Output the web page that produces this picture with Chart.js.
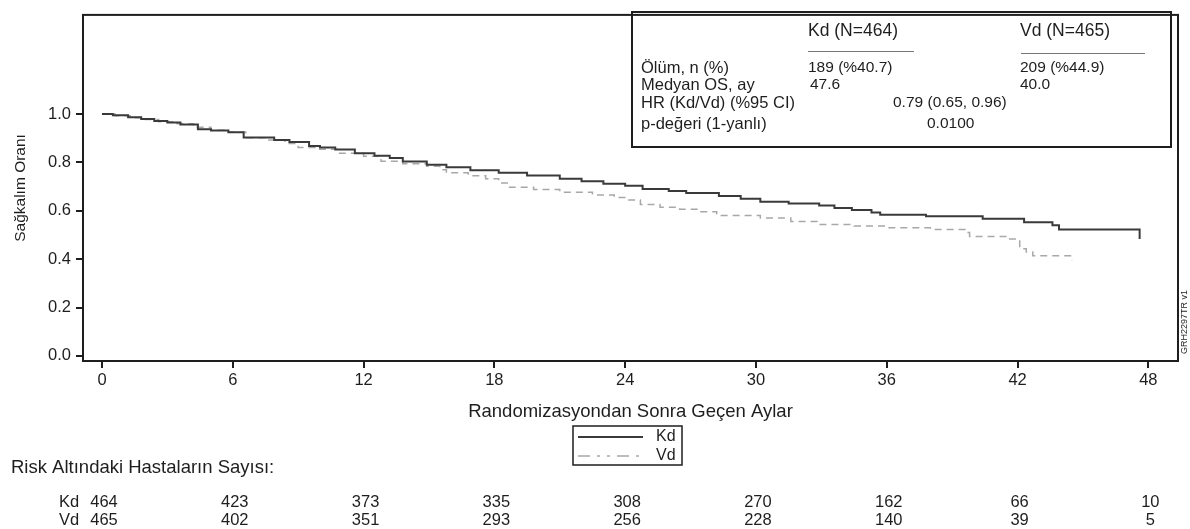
<!DOCTYPE html>
<html>
<head>
<meta charset="utf-8">
<script src="https://cdn.jsdelivr.net/npm/chart.js@4"></script>
<style>
  html, body { margin: 0; padding: 0; background: #fff; }
  #wrap { width: 1190px; height: 529px; position: relative; }
</style>
</head>
<body>
<div id="wrap"><canvas id="km"></canvas></div>
<script>
// Kaplan-Meier okumalari (ay, sagkalim orani)
var kdMonths = [0, 0.5, 1.2, 1.8, 2.4, 3.0, 3.6, 4.4, 5.0, 5.8, 6.5, 7.9, 8.6, 9.5, 10.0, 10.7, 11.6, 12.5, 13.2, 13.8, 14.9, 15.8, 16.9, 18.2, 19.5, 21.0, 22.0, 23.0, 24.0, 24.8, 26.0, 26.8, 28.3, 29.3, 30.2, 31.5, 32.9, 33.6, 34.4, 35.3, 35.7, 37.8, 40.4, 42.3, 43.6, 43.9, 47.6];
var kdSurv   = [1.0, 0.995, 0.987, 0.980, 0.971, 0.965, 0.957, 0.937, 0.932, 0.925, 0.903, 0.893, 0.885, 0.868, 0.862, 0.853, 0.838, 0.828, 0.818, 0.804, 0.790, 0.780, 0.768, 0.757, 0.746, 0.733, 0.722, 0.712, 0.704, 0.690, 0.682, 0.674, 0.661, 0.650, 0.637, 0.630, 0.622, 0.612, 0.603, 0.593, 0.584, 0.577, 0.567, 0.553, 0.540, 0.523, 0.483];
var vdMonths = [0, 0.6, 1.3, 2.0, 2.6, 3.4, 4.2, 5.0, 5.8, 6.6, 7.6, 8.4, 9.0, 9.8, 10.9, 12.0, 12.8, 13.8, 14.9, 15.5, 15.8, 16.8, 17.6, 18.2, 18.7, 19.8, 21.0, 22.5, 23.5, 24.1, 24.7, 25.6, 26.5, 27.4, 28.2, 30.2, 31.6, 32.8, 34.5, 36.0, 38.0, 39.7, 39.8, 41.5, 42.1, 42.4, 42.7, 44.5];
var vdSurv   = [1.0, 0.993, 0.985, 0.977, 0.968, 0.960, 0.945, 0.933, 0.925, 0.902, 0.893, 0.878, 0.862, 0.855, 0.838, 0.826, 0.805, 0.795, 0.784, 0.770, 0.757, 0.745, 0.733, 0.715, 0.697, 0.688, 0.677, 0.665, 0.655, 0.645, 0.626, 0.615, 0.606, 0.596, 0.581, 0.570, 0.556, 0.543, 0.537, 0.530, 0.523, 0.510, 0.494, 0.483, 0.443, 0.430, 0.414, 0.396];

var xTicks = [0, 6, 12, 18, 24, 30, 36, 42, 48];
var yTicks = [0, 0.2, 0.4, 0.6, 0.8, 1.0];

// risk altindaki hasta sayilari
var riskMonths = [0, 6, 12, 18, 24, 30, 36, 42, 48];
var riskKd = [464, 423, 373, 335, 308, 270, 162, 66, 10];
var riskVd = [465, 402, 351, 293, 256, 228, 140, 39, 5];

var FONT = '"Liberation Sans", Arial, Helvetica, sans-serif';
var INK = '#1e1e1e';
var KD_COLOR = '#3a3a3a';
var VD_COLOR = '#a8a8a8';

function toPoints(xs, ys) {
  var out = [];
  for (var i = 0; i < xs.length; i++) out.push({ x: xs[i], y: ys[i] });
  return out;
}

// cerceve, bilgi kutusu, alt lejant, risk tablosu
var extras = {
  id: 'extras',
  afterDraw: function (chart) {
    var ctx = chart.ctx;
    var a = chart.chartArea;
    var xs = chart.scales.x;
    ctx.save();

    // plot frame
    ctx.strokeStyle = INK;
    ctx.lineWidth = 2;
    ctx.strokeRect(a.left, a.top, a.right - a.left, a.bottom - a.top);

    // info box
    ctx.lineWidth = 2;
    ctx.strokeRect(632, 12, 539, 135);
    ctx.fillStyle = INK;
    ctx.textBaseline = 'middle';
    ctx.textAlign = 'left';
    ctx.font = '17.5px ' + FONT;
    ctx.fillText('Kd (N=464)', 808, 31);
    ctx.fillText('Vd (N=465)', 1020, 31);
    ctx.strokeStyle = '#777';
    ctx.lineWidth = 1;
    ctx.beginPath();
    ctx.moveTo(808, 51.5); ctx.lineTo(914, 51.5);
    ctx.moveTo(1021, 53.5); ctx.lineTo(1145, 53.5);
    ctx.stroke();
    ctx.font = '16.5px ' + FONT;
    ctx.fillText('Ölüm, n (%)', 641, 68);
    ctx.fillText('Medyan OS, ay', 641, 85);
    ctx.fillText('HR (Kd/Vd) (%95 CI)', 641, 103);
    ctx.fillText('p-değeri (1-yanlı)', 641, 124);
    ctx.font = '15.5px ' + FONT;
    ctx.fillText('189 (%40.7)', 808, 68);
    ctx.fillText('209 (%44.9)', 1020, 68);
    ctx.fillText('47.6', 810, 85);
    ctx.fillText('40.0', 1020, 85);
    ctx.fillText('0.79 (0.65, 0.96)', 893, 103);
    ctx.fillText('0.0100', 927, 124);

    // side code
    ctx.save();
    ctx.translate(1185, 322);
    ctx.rotate(-Math.PI / 2);
    ctx.font = '9px ' + FONT;
    ctx.textAlign = 'center';
    ctx.fillText('GRH2297TR v1', 0, 0);
    ctx.restore();

    // bottom legend
    ctx.strokeStyle = INK;
    ctx.lineWidth = 1.5;
    ctx.strokeRect(573, 426, 109, 39);
    ctx.strokeStyle = KD_COLOR;
    ctx.lineWidth = 2;
    ctx.beginPath(); ctx.moveTo(578, 437); ctx.lineTo(643, 437); ctx.stroke();
    ctx.strokeStyle = VD_COLOR;
    ctx.lineWidth = 1.5;
    ctx.setLineDash([12, 7, 3, 7, 3, 7]);
    ctx.beginPath(); ctx.moveTo(578, 456); ctx.lineTo(643, 456); ctx.stroke();
    ctx.setLineDash([]);
    ctx.fillStyle = INK;
    ctx.font = '16px ' + FONT;
    ctx.fillText('Kd', 656, 437);
    ctx.fillText('Vd', 656, 456);

    // risk table
    ctx.font = '18.5px ' + FONT;
    ctx.fillText('Risk Altındaki Hastaların Sayısı:', 11, 468);
    ctx.font = '16.5px ' + FONT;
    ctx.fillText('Kd', 59, 502);
    ctx.fillText('Vd', 59, 520);
    ctx.textAlign = 'center';
    for (var i = 0; i < riskMonths.length; i++) {
      var px = xs.getPixelForValue(riskMonths[i]);
      ctx.fillText(String(riskKd[i]), px + 2, 502);
      ctx.fillText(String(riskVd[i]), px + 2, 520);
    }
    ctx.restore();
  }
};

var chart = new Chart(document.getElementById('km').getContext('2d'), {
  type: 'line',
  data: {
    datasets: [{
      label: 'Kd',
      data: toPoints(kdMonths, kdSurv),
      borderColor: KD_COLOR,
      borderWidth: 2,
      stepped: 'before',
      pointRadius: 0,
      fill: false
    }, {
      label: 'Vd',
      data: toPoints(vdMonths, vdSurv),
      borderColor: VD_COLOR,
      borderWidth: 1.5,
      borderDash: [7, 5],
      stepped: 'before',
      pointRadius: 0,
      fill: false
    }]
  },
  options: {
    responsive: true,
    maintainAspectRatio: false,
    animation: false,
    layout: { padding: { left: 0, top: 3, right: 12, bottom: 102 } },
    plugins: { legend: { display: false }, tooltip: { enabled: false } },
    scales: {
      x: {
        type: 'linear',
        min: -0.87,
        max: 49.36,
        afterBuildTicks: function (s) { s.ticks = xTicks.map(function (v) { return { value: v }; }); },
        afterFit: function (s) { s.height = 66; },
        border: { display: false },
        grid: { drawOnChartArea: false, tickLength: 7, color: INK, lineWidth: 2 },
        ticks: { color: INK, font: { family: FONT, size: 16.5 }, padding: 3, maxRotation: 0 },
        title: { display: true, text: 'Randomizasyondan Sonra Geçen Aylar', color: INK, font: { family: FONT, size: 18.5 }, padding: { top: 12 } }
      },
      y: {
        type: 'linear',
        min: -0.021,
        max: 1.41,
        afterBuildTicks: function (s) { s.ticks = yTicks.map(function (v) { return { value: v }; }); },
        afterFit: function (s) { s.width = 83; },
        border: { display: false },
        grid: { drawOnChartArea: false, tickLength: 7, color: INK, lineWidth: 2 },
        ticks: { color: INK, font: { family: FONT, size: 16.5 }, padding: 5, callback: function (v) { return Number(v).toFixed(1); } },
        title: { display: true, text: 'Sağkalım Oranı', color: INK, font: { family: FONT, size: 15.5 }, padding: { top: 11, bottom: 4 } }
      }
    }
  },
  plugins: [extras]
});
</script>
</body>
</html>
